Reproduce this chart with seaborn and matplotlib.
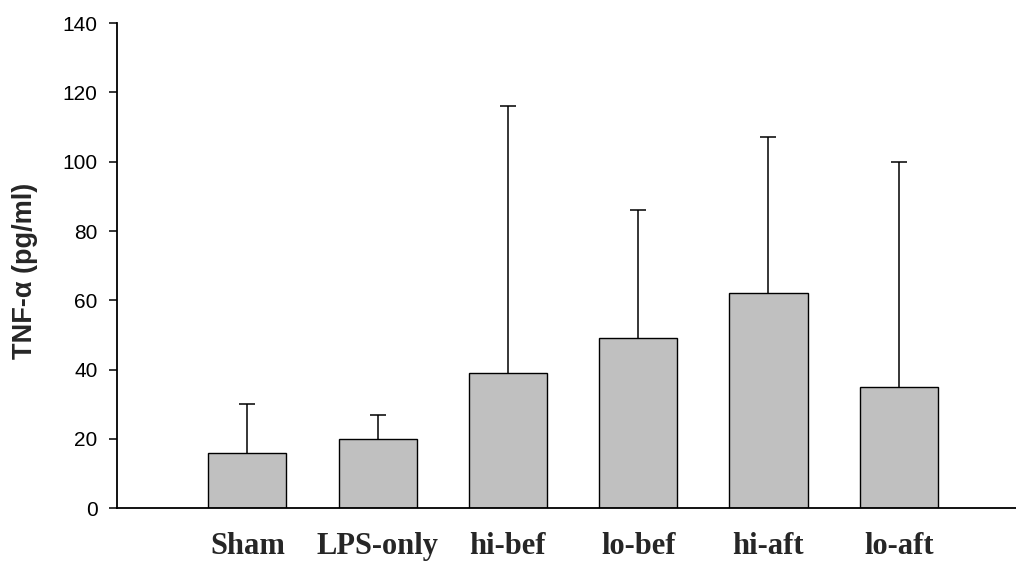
import numpy as np
import pandas as pd
import seaborn as sns
import matplotlib.pyplot as plt

# group means and top of the error bars
groups = ['Sham', 'LPS-only', 'hi-bef', 'lo-bef', 'hi-aft', 'lo-aft']
means = [16, 20, 39, 49, 62, 35]
err_top = [30, 27, 116, 86, 107, 100]

df = pd.DataFrame({'group': groups, 'tnf': means})
upper = np.array(err_top) - np.array(means)

sns.set_style('ticks')
plt.rcParams['font.family'] = ['Liberation Sans', 'DejaVu Sans']

fig = plt.figure(figsize=(10.16, 5.72), dpi=100)
ax = fig.add_axes([0.1152, 0.1114, 0.8848, 0.8482])

sns.barplot(data=df, x='group', y='tnf', color='#C0C0C0', saturation=1,
            edgecolor='black', linewidth=1, width=0.6, ax=ax)

# one-sided error bars (upper only), drop the lower caps
eb = ax.errorbar(np.arange(len(groups)), means, yerr=[np.zeros(len(groups)), upper],
                 fmt='none', ecolor='black', elinewidth=1.1, capsize=6, capthick=1.1)
eb[1][0].set_visible(False)

ax.set_xlim(-1.0, 5.9)
ax.set_ylim(0, 140)
ax.set_yticks(range(0, 141, 20))

sns.despine(ax=ax)
for s in ['left', 'bottom']:
    ax.spines[s].set_linewidth(1.3)
    ax.spines[s].set_color('black')

ax.tick_params(axis='y', length=6, width=1.1, labelsize=15, pad=8, colors='black')
ax.tick_params(axis='x', length=0, pad=17)
for lab in ax.get_xticklabels():
    lab.set_fontfamily('Liberation Serif')
    lab.set_fontweight('bold')
    lab.set_fontsize(22)

ax.set_xlabel('')
ax.set_ylabel('TNF-α (pg/ml)', fontsize=19.5, fontweight='bold')
ax.yaxis.set_label_coords(-0.088, 0.49)

fig.savefig('out.png', dpi=100)
